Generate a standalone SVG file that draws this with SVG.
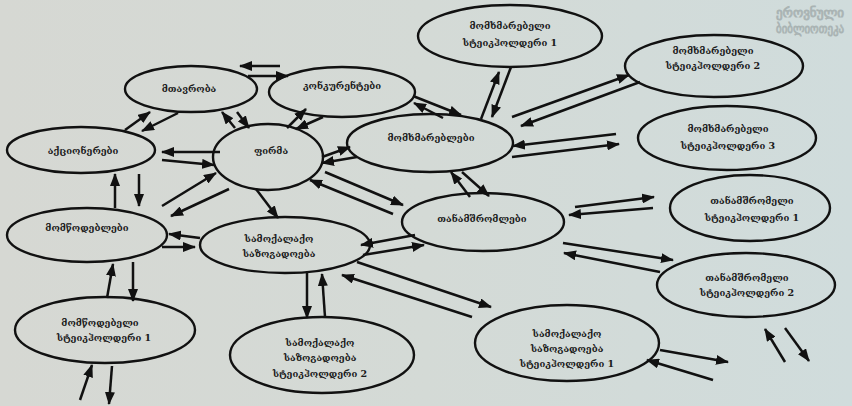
<svg xmlns="http://www.w3.org/2000/svg" width="852" height="406" viewBox="0 0 852 406">
<defs>
<linearGradient id="bg" x1="0" y1="0" x2="1" y2="0">
<stop offset="0" stop-color="#d6d8d3"/>
<stop offset="0.5" stop-color="#d4dad6"/>
<stop offset="1" stop-color="#d0dcdc"/>
</linearGradient>
<marker id="ah" markerUnits="userSpaceOnUse" markerWidth="13" markerHeight="10" refX="12" refY="5" orient="auto">
<path d="M0,0 L13,5 L0,10 z" fill="#111"/>
</marker>
<style>
.n ellipse{fill:none;stroke:#111;stroke-width:2.4}
.n text{font-family:"DejaVu Serif","DejaVu Sans",serif;font-size:9.5px;font-weight:bold;fill:#1a1a1a;text-anchor:middle}
.c line{stroke:#111;stroke-width:2.5;marker-end:url(#ah)}
.wm{font-family:"DejaVu Sans",sans-serif;font-size:12px;fill:none;stroke:#a9b3b3;stroke-width:0.9}
</style>
</defs>
<rect width="852" height="406" fill="url(#bg)"/>
<text class="wm" x="776" y="17" textLength="68" lengthAdjust="spacingAndGlyphs">ეროვნული</text>
<text class="wm" x="776" y="33" textLength="68" lengthAdjust="spacingAndGlyphs">ბიბლიოთეკა</text>

<g class="c">
<line x1="280" y1="66" x2="240" y2="66"/>
<line x1="248" y1="76" x2="288" y2="76"/>
<line x1="125" y1="130" x2="150" y2="112"/>
<line x1="178" y1="113" x2="142" y2="131"/>
<line x1="235" y1="128" x2="222" y2="112"/>
<line x1="237" y1="112" x2="249" y2="128"/>
<line x1="220" y1="152" x2="162" y2="152"/>
<line x1="162" y1="160" x2="214" y2="165"/>
<line x1="115" y1="208" x2="115" y2="174"/>
<line x1="139" y1="174" x2="139" y2="206"/>
<line x1="162" y1="206" x2="216" y2="173"/>
<line x1="229" y1="189" x2="171" y2="216"/>
<line x1="256" y1="189" x2="278" y2="218"/>
<line x1="287" y1="128" x2="306" y2="109"/>
<line x1="323" y1="117" x2="296" y2="129"/>
<line x1="322" y1="157" x2="350" y2="147"/>
<line x1="357" y1="157" x2="322" y2="163"/>
<line x1="413" y1="96" x2="461" y2="115"/>
<line x1="443" y1="118" x2="414" y2="103"/>
<line x1="325" y1="172" x2="403" y2="205"/>
<line x1="393" y1="214" x2="310" y2="180"/>
<line x1="481" y1="119" x2="499" y2="72"/>
<line x1="511" y1="67" x2="492" y2="117"/>
<line x1="512" y1="117" x2="629" y2="75"/>
<line x1="640" y1="82" x2="521" y2="126"/>
<line x1="616" y1="134" x2="513" y2="146"/>
<line x1="512" y1="157" x2="619" y2="144"/>
<line x1="470" y1="197" x2="451" y2="172"/>
<line x1="462" y1="172" x2="489" y2="196"/>
<line x1="415" y1="235" x2="361" y2="245"/>
<line x1="363" y1="255" x2="424" y2="245"/>
<line x1="200" y1="238" x2="169" y2="234"/>
<line x1="162" y1="247" x2="195" y2="247"/>
<line x1="107" y1="298" x2="113" y2="264"/>
<line x1="133" y1="262" x2="133" y2="301"/>
<line x1="80" y1="400" x2="92" y2="365"/>
<line x1="112" y1="366" x2="109" y2="404"/>
<line x1="307" y1="273" x2="307" y2="318"/>
<line x1="325" y1="317" x2="322" y2="274"/>
<line x1="357" y1="262" x2="491" y2="307"/>
<line x1="472" y1="317" x2="342" y2="275"/>
<line x1="575" y1="207" x2="654" y2="197"/>
<line x1="653" y1="208" x2="569" y2="215"/>
<line x1="563" y1="243" x2="673" y2="260"/>
<line x1="660" y1="272" x2="564" y2="253"/>
<line x1="785" y1="362" x2="765" y2="329"/>
<line x1="785" y1="328" x2="809" y2="361"/>
<line x1="660" y1="350" x2="728" y2="362"/>
<line x1="713" y1="380" x2="647" y2="360"/>
</g>

<g id="mtavroba" class="n"><ellipse cx="191" cy="89" rx="66" ry="23"/><text x="189" y="92">მთავრობა</text></g>
<g id="konkurentebi" class="n"><ellipse cx="342" cy="92" rx="73" ry="25"/><text x="342" y="89">კონკურენტები</text></g>
<g id="aktsionerebi" class="n"><ellipse cx="81" cy="150" rx="74" ry="23"/><text x="83" y="154">აქციონერები</text></g>
<g id="firma" class="n"><ellipse cx="268" cy="157" rx="55" ry="33"/><text x="271" y="154">ფირმა</text></g>
<g id="momkhmareblebi" class="n"><ellipse cx="430" cy="143" rx="83" ry="29"/><text x="431" y="141">მომხმარებლები</text></g>
<g id="momts_odeblebi" class="n"><ellipse cx="87" cy="235" rx="80" ry="27"/><text x="87" y="231">მომწოდებლები</text></g>
<g id="samokalako" class="n"><ellipse cx="285" cy="245" rx="85" ry="28"/><text x="279" y="242">სამოქალაქო</text><text x="279" y="257">საზოგადოება</text></g>
<g id="tanamshromlebi" class="n"><ellipse cx="483" cy="222" rx="81" ry="29"/><text x="482" y="222">თანამშრომლები</text></g>
<g id="momts_st1" class="n"><ellipse cx="105" cy="330" rx="90" ry="33"/><text x="100" y="326">მომწოდებელი</text><text x="104" y="341">სტეიკჰოლდერი  1</text></g>
<g id="samok_st2" class="n"><ellipse cx="322" cy="355" rx="92" ry="38"/><text x="320" y="346">სამოქალაქო</text><text x="320" y="361">საზოგადოება</text><text x="320" y="377">სტეიკჰოლდერი  2</text></g>
<g id="samok_st1" class="n"><ellipse cx="567" cy="343" rx="92" ry="38"/><text x="567" y="337">სამოქალაქო</text><text x="567" y="352">საზოგადოება</text><text x="567" y="367">სტეიკჰოლდერი  1</text></g>
<g id="tanam_st2" class="n"><ellipse cx="746" cy="285" rx="89" ry="32"/><text x="747" y="281">თანამშრომელი</text><text x="747" y="296">სტეიკჰოლდერი  2</text></g>
<g id="tanam_st1" class="n"><ellipse cx="750" cy="208" rx="80" ry="33"/><text x="752" y="204">თანამშრომელი</text><text x="752" y="221">სტეიკჰოლდერი  1</text></g>
<g id="momkh_st3" class="n"><ellipse cx="727" cy="138" rx="89" ry="32"/><text x="728" y="132">მომხმარებელი</text><text x="728" y="149">სტეიკჰოლდერი  3</text></g>
<g id="momkh_st2" class="n"><ellipse cx="714" cy="66" rx="89" ry="31"/><text x="713" y="54">მომხმარებელი</text><text x="713" y="69">სტეიკჰოლდერი  2</text></g>
<g id="momkh_st1" class="n"><ellipse cx="510" cy="36" rx="92" ry="31"/><text x="510" y="29">მომხმარებელი</text><text x="510" y="46">სტეიკჰოლდერი  1</text></g>
</svg>
